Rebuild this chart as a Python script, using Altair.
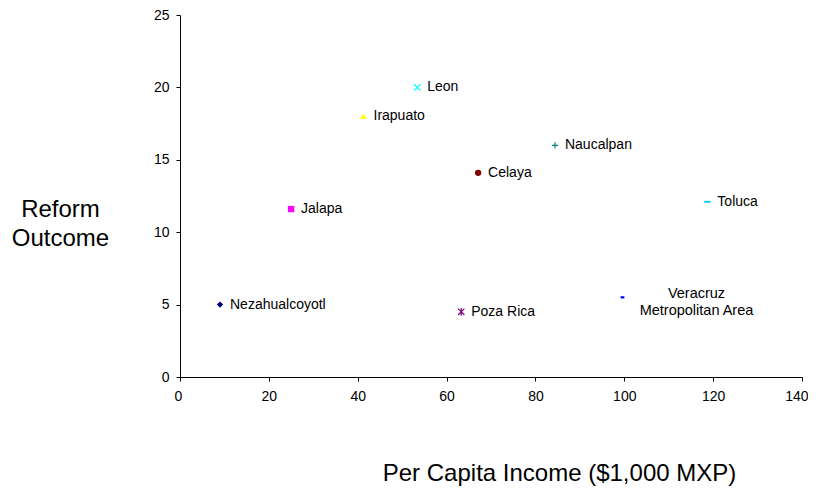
import altair as alt
import pandas as pd

cities = ["Nezahualcoyotl", "Jalapa", "Irapuato", "Leon", "Poza Rica",
          "Celaya", "Naucalpan", "Veracruz\nMetropolitan Area", "Toluca"]
income = [9, 25, 41.3, 53.4, 63.3, 67.1, 84.4, 99.6, 118.7]
outcome = [5, 11.6, 18, 20, 4.5, 14.1, 16, 5.5, 12.1]

x_ticks = [0, 20, 40, 60, 80, 100, 120, 140]
y_ticks = [0, 5, 10, 15, 20, 25]

df = pd.DataFrame({"city": cities, "income": income, "outcome": outcome})

colors = ["#000080", "#FF00FF", "#FFFF00", "#00FFFF", "#800080",
          "#800000", "#008080", "#0000FF", "#00CCFF"]
X_PATH = "M-1,-1L1,1M-1,1L1,-1"
STAR_PATH = "M-1,-1L1,1M-1,1L1,-1M0,-1.2L0,1.2"
PLUS_PATH = "M-1,0L1,0M0,-1L0,1"
DASH_SHORT = "M-0.6,-0.35H0.6V0.35H-0.6Z"
DASH_LONG = "M-1,-0.3H1V0.3H-1Z"
shapes = ["diamond", "square", "triangle-up", X_PATH, STAR_PATH,
          "circle", PLUS_PATH, DASH_SHORT, DASH_LONG]
filled_set = {"Nezahualcoyotl", "Jalapa", "Irapuato", "Celaya",
              "Veracruz\nMetropolitan Area", "Toluca"}

FONT = "Liberation Sans"

x_enc = alt.X("income:Q", scale=alt.Scale(domain=[0, 140], nice=False),
              axis=alt.Axis(values=x_ticks, title="Per Capita Income ($1,000 MXP)",
                            titleX=379, titleY=96, titleAlign="center",
                            titleBaseline="middle", titleAnchor="start",
                            labelPadding=8, labelFlush=True, labelFlushOffset=6))
y_enc = alt.Y("outcome:Q", scale=alt.Scale(domain=[0, 25], nice=False),
              axis=alt.Axis(values=y_ticks, title=["Reform", "Outcome"],
                            titleAngle=0, titleX=-120, titleY=194,
                            titleAlign="center", titleBaseline="middle",
                            titleAnchor="start", titleLineHeight=29,
                            labelPadding=7, labelFlush=False))
color_enc = alt.Color("city:N", scale=alt.Scale(domain=cities, range=colors), legend=None)
shape_enc = alt.Shape("city:N", scale=alt.Scale(domain=cities, range=shapes), legend=None)

base = alt.Chart(df)

filled_pts = base.transform_filter(
    alt.FieldOneOfPredicate(field="city", oneOf=sorted(filled_set))
).mark_point(filled=True, size=40, opacity=1).encode(
    x=x_enc, y=y_enc, color=color_enc, shape=shape_enc)

stroked_pts = base.transform_filter(
    ~alt.FieldOneOfPredicate(field="city", oneOf=sorted(filled_set))
).mark_point(filled=False, size=40, strokeWidth=1.2, opacity=1).encode(
    x=x_enc, y=y_enc, color=color_enc, shape=shape_enc)

labels = base.transform_filter(
    alt.datum.city != "Veracruz\nMetropolitan Area"
).mark_text(align="left", baseline="middle", dx=10, fontSize=14,
            font=FONT, color="black").encode(x=x_enc, y=y_enc, text="city:N")

ver_label = base.transform_filter(
    alt.datum.city == "Veracruz\nMetropolitan Area"
).mark_text(align="center", baseline="middle", dx=74, dy=-3, fontSize=14.5,
            font=FONT, color="black", lineBreak="\n", lineHeight=17).encode(
    x=x_enc, y=y_enc, text="city:N")

chart = alt.layer(filled_pts, stroked_pts, labels, ver_label).properties(
    width=622, height=362,
    autosize=alt.AutoSizeParams(type="none"),
    padding={"left": 172, "top": 7, "right": 6, "bottom": 110},
).configure_view(stroke=None).configure_axis(
    grid=False, domainColor="black", tickColor="black", tickSize=4,
    labelFont=FONT, labelFontSize=14, labelColor="black",
    titleFont=FONT, titleFontSize=24, titleFontWeight="normal", titleColor="black",
)

chart.save("out.html", embed_options={"renderer": "svg", "actions": False})
